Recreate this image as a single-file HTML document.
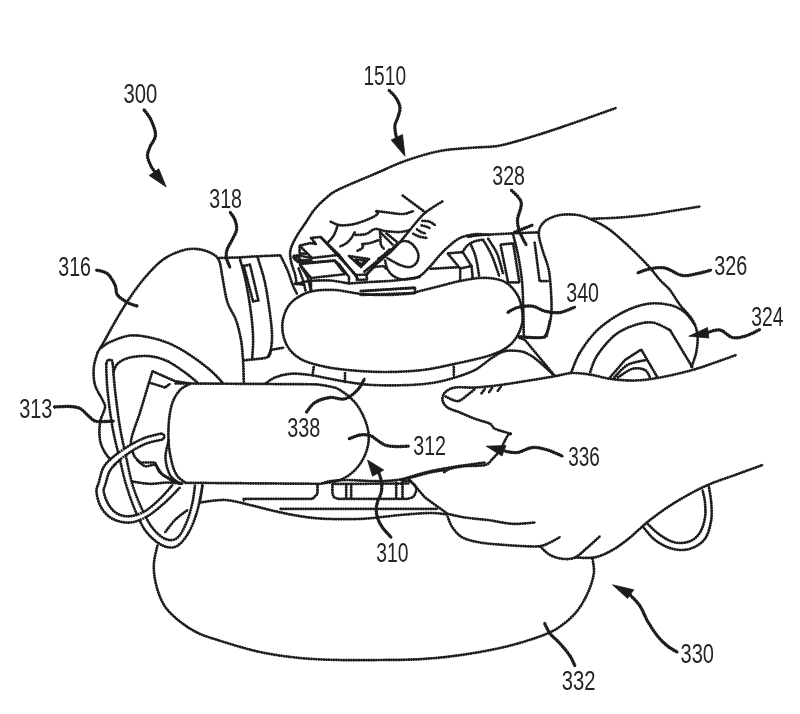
<!DOCTYPE html>
<html lang="en">
<head>
<meta charset="utf-8">
<title>Patent figure - device 300 with hands 1510 and 336</title>
<style>
html,body{margin:0;padding:0;background:#fff;}
body{width:800px;height:714px;overflow:hidden;}
svg{display:block;}
</style>
</head>
<body>
<svg width="800" height="714" viewBox="0 0 800 714">
<rect width="800" height="714" fill="#fff"/>
<defs>
<g id="mainlines">
<path d="M157.5 545.0C156.9 548.3 154.0 558.3 153.8 565.0C153.6 571.7 154.5 578.3 156.2 585.0C157.9 591.7 160.4 599.2 164.0 605.0C167.6 610.8 172.5 615.4 178.0 620.0C183.5 624.6 190.2 629.1 197.0 632.5C203.8 635.9 208.5 637.2 219.0 640.5C229.5 643.8 246.5 649.1 260.0 652.0C273.5 654.9 286.7 656.7 300.0 658.0C313.3 659.3 326.7 659.7 340.0 660.0C353.3 660.3 366.7 660.1 380.0 660.0C393.3 659.9 406.7 660.0 420.0 659.2C433.3 658.4 446.7 657.1 460.0 655.2C473.3 653.3 488.3 650.6 500.0 648.0C511.7 645.4 520.8 642.8 530.0 639.8C539.2 636.8 547.5 634.2 555.0 629.8C562.5 625.4 569.6 619.5 575.0 613.5C580.4 607.5 584.4 600.2 587.5 593.5C590.6 586.8 593.0 579.3 593.8 573.5C594.6 567.7 592.7 561.0 592.5 558.5"/>
<path d="M616.0 108.0C609.2 110.4 588.1 118.0 575.0 122.5C561.9 127.0 550.0 131.2 537.5 135.0C525.0 138.8 510.4 143.4 500.0 145.5C489.6 147.6 485.0 146.6 475.0 147.5C465.0 148.4 451.7 148.8 440.0 151.0C428.3 153.2 415.8 157.2 405.0 161.0C394.2 164.8 386.2 169.0 375.0 173.8C363.8 178.6 345.8 185.8 337.5 190.0C329.2 194.2 328.8 195.8 325.0 199.0C321.2 202.2 317.8 205.5 314.5 209.5C311.2 213.5 308.5 218.5 305.5 223.0C302.5 227.5 299.0 232.0 296.5 236.5C294.0 241.0 291.4 245.8 290.5 250.0C289.6 254.2 290.4 258.0 291.2 262.0C291.9 266.0 294.1 270.5 295.0 274.0C295.9 277.5 296.2 281.5 296.5 283.0"/>
<path d="M591.0 218.8C595.8 218.6 610.2 218.2 620.0 217.5C629.8 216.8 640.8 215.7 650.0 214.5C659.2 213.3 666.7 211.8 675.0 210.5C683.3 209.2 695.8 207.2 700.0 206.5"/>
<path d="M97.5 352.5C98.5 350.8 100.5 347.8 103.8 342.0C107.1 336.2 113.1 324.9 117.5 317.5C121.9 310.1 125.4 304.2 130.0 297.5C134.6 290.8 139.6 283.8 145.0 277.5C150.4 271.2 156.7 264.4 162.5 260.0C168.3 255.6 174.6 253.1 180.0 251.2C185.4 249.3 190.0 248.6 195.0 248.8C200.0 249.0 206.0 250.6 210.0 252.5C214.0 254.4 216.7 255.8 218.8 260.0C220.9 264.2 221.1 270.4 222.5 277.5C223.9 284.6 225.2 295.4 227.5 302.5C229.8 309.6 233.8 313.8 236.0 320.0C238.2 326.2 239.8 333.3 241.0 340.0C242.2 346.7 242.5 352.9 243.0 360.0C243.5 367.1 243.7 378.8 243.8 382.5"/>
<path d="M101.0 348.0C102.5 347.0 105.2 344.1 110.0 342.0C114.8 339.9 123.3 336.2 130.0 335.5C136.7 334.8 143.3 336.1 150.0 337.5C156.7 338.9 163.3 340.9 170.0 343.8C176.7 346.7 183.3 350.6 190.0 355.0C196.7 359.4 204.6 365.4 210.0 370.0C215.4 374.6 220.4 380.4 222.5 382.5"/>
<path d="M112.5 375.0C113.3 373.1 114.6 366.7 117.5 363.8C120.4 360.9 124.6 358.8 130.0 357.5C135.4 356.2 143.8 355.6 150.0 356.2C156.2 356.8 161.7 358.5 167.5 361.2C173.3 363.9 180.0 368.9 185.0 372.5C190.0 376.1 195.4 380.8 197.5 382.5"/>
<path d="M523.8 337.5C527.1 337.5 539.8 338.3 543.8 337.5C547.8 336.7 546.3 336.2 547.5 332.5C548.7 328.8 550.6 321.2 551.2 315.0C551.8 308.8 551.6 302.5 551.2 295.0C550.8 287.5 550.2 277.5 548.8 270.0C547.3 262.5 544.2 256.2 542.5 250.0C540.8 243.8 538.4 237.3 538.8 232.5C539.2 227.7 541.5 224.1 545.0 221.2C548.5 218.3 554.6 216.0 560.0 215.0C565.4 214.0 572.1 214.2 577.5 215.0C582.9 215.8 587.1 217.5 592.5 220.0C597.9 222.5 603.8 225.4 610.0 230.0C616.2 234.6 623.8 241.7 630.0 247.5C636.2 253.3 642.5 259.6 647.5 265.0C652.5 270.4 656.2 275.8 660.0 280.0C663.8 284.2 666.7 285.8 670.0 290.0C673.3 294.2 676.2 300.0 680.0 305.0C683.8 310.0 689.6 315.0 692.5 320.0C695.4 325.0 696.9 329.6 697.5 335.0C698.1 340.4 697.2 347.1 696.2 352.5C695.2 357.9 692.0 365.0 691.2 367.5"/>
<path d="M571.2 372.5C572.7 369.2 575.6 359.6 580.0 352.5C584.4 345.4 590.4 336.7 597.5 330.0C604.6 323.3 614.2 316.9 622.5 312.5C630.8 308.1 639.6 305.1 647.5 303.8C655.4 302.6 663.8 303.6 670.0 305.0C676.2 306.4 680.8 309.2 685.0 312.5C689.2 315.8 693.3 322.9 695.0 325.0"/>
<path d="M590.0 372.5C591.2 369.6 593.3 361.2 597.5 355.0C601.7 348.8 608.8 340.0 615.0 335.0C621.2 330.0 628.8 327.1 635.0 325.0C641.2 322.9 646.7 321.7 652.5 322.5C658.3 323.3 667.1 328.8 670.0 330.0"/>
<path d="M670.0 330.0L692.5 367.5"/>
<path d="M511.2 433.8C508.5 433.0 498.5 430.5 495.0 428.8C491.5 427.1 493.3 425.5 490.0 423.8C486.7 422.1 480.0 420.7 475.0 418.8C470.0 416.9 464.6 414.4 460.0 412.5C455.4 410.6 450.4 409.6 447.5 407.5C444.6 405.4 442.9 402.5 442.5 400.0C442.1 397.5 442.9 394.6 445.0 392.5C447.1 390.4 450.0 388.3 455.0 387.5C460.0 386.7 467.5 387.9 475.0 387.5C482.5 387.1 491.7 386.1 500.0 385.0C508.3 383.9 515.8 382.7 525.0 381.2C534.2 379.7 547.1 377.6 555.0 376.2C562.9 374.8 566.2 373.2 572.5 373.0C578.8 372.8 586.2 374.0 592.5 375.0C598.8 376.0 602.9 377.9 610.0 378.8C617.1 379.7 626.7 380.7 635.0 380.5C643.3 380.3 650.4 379.2 660.0 377.5C669.6 375.8 683.3 372.5 692.5 370.0C701.7 367.5 707.7 365.0 715.0 362.5C722.3 360.0 732.7 356.2 736.2 355.0"/>
<path d="M575.0 557.5C578.3 557.5 588.8 558.5 595.0 557.3C601.2 556.0 606.7 553.3 612.5 550.0C618.3 546.7 623.8 542.5 630.0 537.5C636.2 532.5 642.5 525.8 650.0 520.0C657.5 514.2 665.8 508.1 675.0 502.5C684.2 496.9 695.0 490.8 705.0 486.2C715.0 481.6 725.4 478.5 735.0 475.0C744.6 471.5 757.9 466.7 762.5 465.0"/>
<path d="M190.0 383.8C188.3 384.8 182.9 386.9 180.0 390.0C177.1 393.1 174.4 397.1 172.5 402.5C170.6 407.9 169.4 415.4 168.8 422.5C168.2 429.6 168.2 437.9 168.8 445.0C169.4 452.1 171.1 459.8 172.5 465.0C173.9 470.2 175.4 473.3 177.5 476.2C179.6 479.1 183.8 481.4 185.0 482.5"/>
<path d="M317.5 384.5C319.6 384.8 326.2 385.6 330.0 386.5C333.8 387.4 335.8 387.3 340.0 390.0C344.2 392.7 350.8 397.5 355.0 402.5C359.2 407.5 362.7 414.2 365.0 420.0C367.3 425.8 368.8 431.7 368.8 437.5C368.8 443.3 367.3 449.6 365.0 455.0C362.7 460.4 359.2 465.8 355.0 470.0C350.8 474.2 345.8 477.7 340.0 480.0C334.2 482.3 323.3 483.2 320.0 483.8"/>
<path d="M185.0 482.8L320.0 483.8"/>
<path d="M168.8 440.0C168.2 442.9 165.3 451.7 165.5 457.5C165.7 463.3 167.6 470.6 170.0 475.0C172.4 479.4 178.3 482.5 180.0 484.0"/>
<path d="M312.5 291.2C318.8 289.9 327.1 289.6 335.0 290.0C342.9 290.4 351.7 293.0 360.0 293.8C368.3 294.6 376.7 295.1 385.0 295.0C393.3 294.9 404.2 294.2 410.0 293.5C415.8 292.8 415.0 292.2 420.0 291.0C425.0 289.8 433.3 287.7 440.0 286.0C446.7 284.3 453.3 282.3 460.0 281.0C466.7 279.7 474.0 278.3 480.0 278.0C486.0 277.7 491.3 278.0 496.0 279.0C500.7 280.0 504.3 281.2 508.0 284.0C511.7 286.8 515.7 291.7 518.0 296.0C520.3 300.3 521.3 305.3 522.0 310.0C522.7 314.7 523.0 319.3 522.0 324.0C521.0 328.7 518.7 334.0 516.0 338.0C513.3 342.0 510.7 345.0 506.0 348.0C501.3 351.0 496.5 353.4 488.0 356.0C479.5 358.6 465.9 361.5 455.0 363.8C444.1 366.1 434.2 368.6 422.5 370.0C410.8 371.4 397.5 372.0 385.0 372.0C372.5 372.0 357.9 371.0 347.5 370.0C337.1 369.0 330.0 367.9 322.5 366.2C315.0 364.5 307.9 362.7 302.5 360.0C297.1 357.3 293.1 353.8 290.0 350.0C286.9 346.2 285.1 342.1 283.8 337.5C282.6 332.9 281.9 327.5 282.5 322.5C283.1 317.5 285.0 311.7 287.5 307.5C290.0 303.3 293.3 300.2 297.5 297.5C301.7 294.8 306.2 292.4 312.5 291.2Z"/>
<path d="M265.0 383.8C266.7 382.8 270.8 379.2 275.0 377.5C279.2 375.8 284.2 374.2 290.0 373.8C295.8 373.4 301.2 373.8 310.0 375.0C318.8 376.2 332.1 379.5 342.5 381.2C352.9 382.9 361.2 384.4 372.5 385.0C383.8 385.6 399.6 385.4 410.0 385.0C420.4 384.6 427.5 383.8 435.0 382.5C442.5 381.2 448.3 379.6 455.0 377.5C461.7 375.4 468.8 373.3 475.0 370.0C481.2 366.7 487.5 360.6 492.5 357.5C497.5 354.4 500.4 352.2 505.0 351.2C509.6 350.1 515.8 350.6 520.0 351.2C524.2 351.8 526.7 353.1 530.0 355.0C533.3 356.9 535.8 359.0 540.0 362.5C544.2 366.0 552.5 373.9 555.0 376.2"/>
<path d="M313.8 366.5L312.5 375.5"/>
<path d="M345.0 372.5L345.0 382.5"/>
<path d="M453.8 366.2L453.8 376.2"/>
<path d="M518.8 337.5L525.0 340.0L555.0 376.2"/>
<path d="M97.5 352.5C96.9 355.0 94.2 362.1 93.8 367.5C93.4 372.9 93.5 379.6 95.0 385.0C96.5 390.4 100.8 396.2 102.5 400.0C104.2 403.8 105.4 403.8 105.0 407.5C104.6 411.2 100.8 417.1 100.0 422.5C99.2 427.9 99.2 435.0 100.0 440.0C100.8 445.0 102.5 448.3 105.0 452.5C107.5 456.7 113.3 462.9 115.0 465.0"/>
<path d="M152.5 371.2C151.7 373.9 149.6 380.6 147.5 387.5C145.4 394.4 142.7 403.8 140.0 412.5C137.3 421.2 132.2 432.9 131.2 440.0C130.2 447.1 132.3 451.2 133.8 455.0C135.3 458.8 139.0 461.2 140.0 462.5"/>
<path d="M140.0 462.5L155.0 462.5L157.5 467.5L162.5 475.0L175.0 482.5"/>
<path d="M152.5 371.2L175.0 381.2L190.0 383.5"/>
<path d="M149.0 382.5L165.0 387.5L170.0 383.8"/>
<path d="M130.0 481.2C133.3 481.6 143.8 483.6 150.0 483.8C156.2 484.0 162.1 482.5 167.5 482.5C172.9 482.5 180.0 483.6 182.5 483.8"/>
<path d="M137.5 460.0C138.8 461.0 142.1 465.4 145.0 466.2C147.9 467.0 152.5 463.9 155.0 465.0C157.5 466.1 157.1 470.0 160.0 472.5C162.9 475.0 168.8 478.1 172.5 480.0C176.2 481.9 180.8 483.2 182.5 483.8"/>
<path d="M218.8 258.0L239.5 257.4L257.3 256.3L280.4 255.3"/>
<path d="M239.5 257.4C240.6 261.4 243.9 272.2 245.8 281.5C247.7 290.8 249.8 303.6 251.0 313.0C252.2 322.4 252.9 330.5 253.1 338.2C253.3 345.9 252.3 355.7 252.1 359.2"/>
<path d="M257.3 256.3C258.5 260.5 262.6 272.1 264.7 281.5C266.8 290.9 268.7 304.2 269.9 313.0C271.1 321.8 271.8 328.1 272.0 334.0C272.2 339.9 271.7 344.8 271.0 348.7C270.3 352.6 268.3 355.7 267.8 357.1"/>
<path d="M280.4 255.3C281.6 257.9 285.7 265.9 287.8 271.0C289.9 276.1 291.4 281.8 293.0 285.7C294.6 289.6 296.5 292.7 297.2 294.1"/>
<path d="M243.7 360.3C245.1 360.2 248.1 360.0 252.1 359.5C256.1 359.0 264.7 358.7 267.8 357.1C270.9 355.5 270.5 351.0 271.0 349.8"/>
<path d="M271.0 349.8L283.6 347.7"/>
<path d="M243.7 265.8L250.0 264.7L258.4 300.4L253.1 301.5Z"/>
<path d="M175.0 383.4L317.5 384.3"/>
<path d="M467.7 237.0C469.4 236.7 474.2 235.7 478.0 235.3C481.8 234.9 484.1 234.8 490.4 234.5C496.7 234.2 507.7 233.6 515.7 233.2C523.7 232.8 534.6 232.5 538.4 232.3"/>
<path d="M462.7 252.1C463.2 251.2 464.7 248.5 466.0 247.0C467.3 245.5 468.6 244.3 470.3 243.3C472.0 242.3 473.9 241.6 476.0 241.0C478.1 240.4 481.8 239.8 482.9 239.5"/>
<path d="M470.3 243.3C470.9 244.8 472.9 249.1 474.0 252.0C475.1 254.9 475.8 257.0 476.6 261.0C477.5 265.0 478.7 273.6 479.1 276.1"/>
<path d="M482.9 239.5C483.8 241.1 486.8 245.8 488.5 249.0C490.2 252.2 491.2 253.9 493.0 258.4C494.8 262.9 498.2 273.2 499.3 276.1"/>
<path d="M487.9 238.3C488.8 239.8 491.8 244.1 493.5 247.0C495.2 249.9 496.4 251.5 498.0 255.9C499.6 260.3 502.2 270.7 503.0 273.6"/>
<path d="M500.5 244.6L513.1 243.3L519.4 282.4L508.1 282.4Z"/>
<path d="M513.1 234.5C514.0 238.1 516.7 248.1 518.2 255.9C519.7 263.7 521.2 272.7 522.0 281.1C522.8 289.5 522.9 297.0 523.2 306.4C523.5 315.8 523.7 332.3 523.8 337.5"/>
<path d="M534.6 242.1L539.6 281.1L548.4 281.1"/>
<path d="M517.5 336.2C521.2 336.4 535.2 337.9 540.0 337.5C544.8 337.1 544.5 336.7 546.2 333.8C547.9 330.9 549.4 322.3 550.0 320.0"/>
<path d="M317.5 484.0L317.5 493.8L312.5 498.8L243.8 498.8L243.8 501.0"/>
<path d="M280.0 508.8L437.5 508.8"/>
<path d="M200.0 502.5C204.2 502.1 216.7 499.6 225.0 500.0C233.3 500.4 241.7 503.1 250.0 505.0C258.3 506.9 266.7 509.3 275.0 511.2C283.3 513.1 291.7 514.9 300.0 516.2C308.3 517.5 314.6 518.4 325.0 518.8C335.4 519.2 350.0 519.4 362.5 518.8C375.0 518.2 388.8 516.0 400.0 515.0C411.2 514.0 422.1 513.1 430.0 513.0C437.9 512.9 444.6 514.2 447.5 514.5"/>
<path d="M202.5 485.0L200.0 501.2"/>
<path d="M332.5 484.0C332.5 485.5 332.2 490.8 332.5 493.0C332.8 495.2 333.1 496.0 334.0 497.0C334.9 498.0 337.3 498.5 338.0 498.8"/>
<path d="M338.0 498.8L407.5 498.8"/>
<path d="M332.5 484.0L408.8 483.5"/>
<path d="M346.2 484.0L346.2 498.0"/>
<path d="M351.2 484.0L351.2 498.0"/>
<path d="M396.2 482.0L396.2 498.0"/>
<path d="M402.5 481.0L402.5 498.0"/>
<path d="M322.0 483.5C323.3 483.1 325.8 481.8 330.0 481.2C334.2 480.6 339.2 480.0 347.5 480.0C355.8 480.0 370.4 481.4 380.0 481.2C389.6 481.0 396.7 480.2 405.0 478.8C413.3 477.4 423.3 474.0 430.0 472.5C436.7 471.0 442.5 470.4 445.0 470.0"/>
<path d="M408.8 478.8L425.0 497.5L447.5 513.8"/>
<path d="M403.0 481.2L410.0 481.2"/>
<path d="M410.0 481.2C411.0 482.2 415.6 485.0 416.2 487.5C416.8 490.0 415.2 494.3 413.8 496.2C412.4 498.1 408.6 498.4 407.5 498.8"/>
<path d="M445.0 396.2C447.1 397.0 453.8 401.4 457.5 401.2C461.2 401.0 464.6 397.1 467.5 395.0C470.4 392.9 473.8 389.8 475.0 388.8"/>
<path d="M481.2 393.8L485.0 388.8"/>
<path d="M488.8 392.5L492.5 387.5"/>
<path d="M497.5 391.2L501.2 386.2"/>
<path d="M511.2 433.8C510.6 434.2 509.4 433.3 507.5 436.0C505.6 438.7 502.5 446.2 500.0 450.0C497.5 453.8 495.0 456.3 492.5 458.8C490.0 461.3 489.6 463.8 485.0 465.0C480.4 466.2 470.8 465.6 465.0 466.2C459.2 466.8 453.5 467.8 450.0 468.8C446.5 469.9 444.8 471.9 443.8 472.5"/>
<path d="M400.0 480.0C404.2 478.8 416.7 474.6 425.0 472.5C433.3 470.4 440.0 469.2 450.0 467.5C460.0 465.8 479.2 463.3 485.0 462.5"/>
<path d="M447.5 513.8C450.4 514.4 458.3 516.5 465.0 517.5C471.7 518.5 479.6 519.0 487.5 520.0C495.4 521.0 504.6 523.4 512.5 523.8C520.4 524.2 531.2 522.7 535.0 522.5"/>
<path d="M447.5 516.2C448.3 518.1 450.0 524.0 452.5 527.5C455.0 531.0 457.9 535.0 462.5 537.5C467.1 540.0 472.9 541.2 480.0 542.5C487.1 543.8 497.5 544.4 505.0 545.0C512.5 545.6 519.2 546.0 525.0 546.2C530.8 546.4 535.8 546.8 540.0 546.2C544.2 545.6 546.7 544.0 550.0 542.5C553.3 541.0 558.3 537.9 560.0 537.0"/>
<path d="M540.0 546.2C541.7 547.7 546.2 552.9 550.0 555.0C553.8 557.1 558.3 558.4 562.5 558.8C566.7 559.2 570.8 559.4 575.0 557.5C579.2 555.6 583.3 551.0 587.5 547.5C591.7 544.0 597.9 538.1 600.0 536.2"/>
<path d="M642.5 526.2C644.6 528.5 650.0 536.2 655.0 540.0C660.0 543.8 666.7 547.3 672.5 548.8C678.3 550.3 684.6 550.5 690.0 548.8C695.4 547.1 701.5 543.6 705.0 538.8C708.5 534.0 710.2 526.0 711.2 520.0C712.2 514.0 711.6 508.1 711.2 502.5C710.8 496.9 709.2 488.9 708.8 486.2"/>
<path d="M647.5 523.8C649.6 525.7 655.4 531.9 660.0 535.0C664.6 538.1 670.0 541.5 675.0 542.5C680.0 543.5 685.8 542.9 690.0 541.2C694.2 539.5 697.5 536.5 700.0 532.5C702.5 528.5 704.2 522.5 705.0 517.5C705.8 512.5 705.4 507.1 705.0 502.5C704.6 497.9 702.9 492.1 702.5 490.0"/>
<path d="M610.0 377.5L625.0 360.0L641.2 349.5L657.5 377.5"/>
<path d="M613.8 378.0C616.1 375.8 622.1 368.0 627.5 365.0C632.9 362.0 643.1 360.8 646.2 360.0"/>
<path d="M617.5 377.5C620.0 376.1 627.9 370.1 632.5 368.8C637.1 367.6 642.1 368.6 645.0 370.0C647.9 371.4 649.2 376.2 650.0 377.5"/>
<path d="M330.2 221.5C331.8 222.1 335.9 224.8 340.0 225.2C344.1 225.6 350.0 224.9 355.0 223.8C360.0 222.7 366.2 220.1 370.0 218.5C373.8 216.9 376.5 215.2 377.5 214.0C378.5 212.8 376.2 211.5 376.0 211.0"/>
<path d="M376.0 211.0C378.0 211.2 383.5 212.0 388.0 212.5C392.5 213.0 398.8 214.2 403.0 214.0C407.2 213.8 411.8 211.5 413.5 211.0"/>
<path d="M337.8 225.2C337.2 226.8 335.6 232.1 334.0 235.0C332.4 237.9 329.0 241.2 328.0 242.5"/>
<path d="M355.0 232.0C354.3 233.1 352.5 236.6 351.0 238.5C349.5 240.4 347.8 242.2 346.0 243.5C344.2 244.8 341.0 246.0 340.0 246.5"/>
<path d="M355.0 235.0C356.8 234.8 362.7 235.0 366.0 234.0C369.3 233.0 371.8 229.5 375.0 229.0C378.2 228.5 380.8 230.5 385.0 231.0C389.2 231.5 395.8 232.2 400.0 232.0C404.2 231.8 408.3 230.3 410.0 230.0"/>
<path d="M357.0 251.0C357.7 250.7 360.0 249.7 361.0 249.0C362.0 248.3 362.8 247.8 363.0 247.0C363.2 246.2 362.2 244.5 362.0 244.0"/>
<path d="M362.0 244.0C363.3 243.8 367.2 243.7 370.0 243.0C372.8 242.3 377.5 240.5 379.0 240.0"/>
<path d="M402.2 195.2L425.5 212.5"/>
<path d="M442.8 201.2C439.9 203.1 430.3 208.5 425.5 212.5C420.7 216.5 418.2 220.1 414.0 225.0C409.8 229.9 404.3 237.2 400.0 242.0C395.7 246.8 391.7 251.2 388.0 254.0C384.3 256.8 379.7 257.8 378.0 258.5"/>
<path d="M388.0 254.0C389.3 252.5 393.3 247.2 396.0 245.0C398.7 242.8 401.3 241.2 404.0 241.0C406.7 240.8 409.7 242.0 412.0 244.0C414.3 246.0 417.2 250.0 418.0 253.0C418.8 256.0 418.3 259.7 417.0 262.0C415.7 264.3 412.8 266.5 410.0 267.0C407.2 267.5 403.8 266.5 400.0 265.0C396.2 263.5 389.2 259.2 387.0 258.0"/>
<path d="M385.0 260.0C385.3 261.3 385.8 265.5 387.0 268.0C388.2 270.5 389.8 273.2 392.0 275.0C394.2 276.8 397.0 278.3 400.0 279.0C403.0 279.7 406.7 279.5 410.0 279.0C413.3 278.5 416.7 278.1 420.0 276.0C423.3 273.9 426.8 269.8 430.0 266.5C433.2 263.2 436.0 259.2 439.0 256.0C442.0 252.8 444.5 250.0 448.0 247.0C451.5 244.0 455.5 240.1 460.0 238.0C464.5 235.9 470.0 234.7 475.0 234.2C480.0 233.7 487.5 234.9 490.0 235.0"/>
<path d="M421.8 220.8C423.0 220.9 426.8 220.8 429.0 221.5C431.2 222.2 434.2 224.6 435.2 225.2"/>
<path d="M421.0 225.2C421.8 225.4 424.5 226.0 426.0 226.5C427.5 227.0 429.3 227.9 430.0 228.2"/>
<path d="M416.5 229.0C417.2 229.5 419.5 231.2 421.0 232.0C422.5 232.8 424.8 233.2 425.5 233.5"/>
<path d="M412.8 233.5C413.8 234.0 416.6 235.8 419.0 236.5C421.4 237.2 425.7 237.8 427.0 238.0"/>
<path d="M299.6 245.7L310.1 243.1L315.8 243.8L311.0 237.9L320.6 237.0L339.0 254.9"/>
<path d="M299.6 245.7L311.9 258.0L339.0 254.9"/>
<path d="M299.6 246.5L299.6 253.6L306.6 253.6"/>
<path d="M293.5 255.8L298.7 255.4L311.0 258.0"/>
<path d="M295.2 260.2L311.9 260.2"/>
<path d="M297.0 261.9L311.9 262.4L334.6 260.6L339.0 264.1"/>
<path d="M293.5 255.8L295.2 260.2"/>
<path d="M299.6 264.1L334.6 260.6L345.1 274.2L311.0 278.0L299.6 264.1"/>
<path d="M320.6 237.0L340.0 258.0L356.5 275.5"/>
<path d="M339.0 254.9L358.2 279.0"/>
<path d="M339.0 264.1L349.0 277.0L349.0 283.5"/>
<path d="M356.5 275.0L366.5 274.5L367.0 279.5L357.0 280.0Z"/>
<path d="M366.5 274.5L373.0 267.0L388.0 254.0"/>
<path d="M364.0 272.0L376.0 262.0L390.0 249.0"/>
<path d="M367.0 274.0L374.0 267.0L384.0 266.0L386.0 269.0"/>
<path d="M349.0 256.0L369.0 259.0L361.0 267.0Z"/>
<path d="M355.0 259.5L365.5 260.5L361.0 264.5Z"/>
<path d="M381.0 233.0L393.0 245.0"/>
<path d="M386.0 233.0L397.0 242.0"/>
<path d="M380.0 231.0C380.1 232.5 380.3 237.7 380.5 240.0C380.7 242.3 380.4 243.5 381.0 245.0C381.6 246.5 383.5 248.3 384.0 249.0"/>
<path d="M349.0 283.5C352.5 283.2 362.3 282.5 370.0 282.0C377.7 281.5 386.7 281.3 395.0 280.5C403.3 279.7 415.8 277.6 420.0 277.0"/>
<path d="M360.0 291.0L415.0 288.0L415.0 293.0L360.0 295.0"/>
<path d="M296.0 284.0C298.3 283.5 304.3 281.6 310.0 281.0C315.7 280.4 323.5 280.1 330.0 280.5C336.5 280.9 345.8 283.0 349.0 283.5"/>
<path d="M447.6 253.4L462.7 252.1"/>
<path d="M447.6 253.4L460.2 268.5L471.5 266.0L462.7 252.1"/>
<path d="M460.2 268.5L460.2 281.0"/>
<path d="M471.5 266.0L472.8 278.6"/>
<path d="M430.0 268.8L458.5 267.2"/>
<path d="M293.0 257.8L299.3 257.4L300.4 265.8L307.7 277.3L310.9 291.0"/>
<path d="M298.5 268.0L303.5 281.5L305.6 291.0"/>
<path d="M294.1 283.6L303.5 284.7"/>
<path d="M311.0 278.0L311.0 291.0"/>
<path d="M362.5 291.2L415.0 287.5"/>
<path d="M109.5 366.0C109.8 370.0 110.1 379.8 111.2 390.0C112.3 400.2 114.2 416.0 116.2 427.5C118.2 439.0 120.9 449.2 123.1 458.8C125.3 468.4 126.9 476.7 129.4 485.0C131.9 493.3 135.0 501.6 138.1 508.8C141.2 516.0 144.4 522.9 148.1 528.1C151.8 533.3 156.2 537.4 160.0 540.0C163.8 542.6 167.9 543.9 171.2 543.8C174.5 543.7 177.1 542.5 180.0 539.4C182.9 536.3 186.3 530.5 188.8 525.0C191.3 519.5 193.3 512.5 195.0 506.2C196.7 499.9 198.2 490.2 198.8 487.0" stroke="#fff" stroke-width="5" stroke-dasharray="none" stroke-linecap="butt"/>
<path d="M106.2 364.0C106.4 368.3 106.5 379.4 107.5 390.0C108.5 400.6 110.4 415.8 112.5 427.5C114.6 439.2 117.7 450.4 120.0 460.0C122.3 469.6 123.7 476.7 126.2 485.0C128.7 493.3 131.9 502.5 135.0 510.0C138.1 517.5 141.2 524.6 145.0 530.0C148.8 535.4 153.3 539.6 157.5 542.5C161.7 545.4 166.2 547.3 170.0 547.5C173.8 547.7 176.7 546.7 180.0 543.8C183.3 540.9 187.1 535.6 190.0 530.0C192.9 524.4 195.4 517.5 197.5 510.0C199.6 502.5 201.7 489.2 202.5 485.0"/>
<path d="M112.8 364.0C113.2 368.3 113.8 379.4 115.0 390.0C116.2 400.6 118.1 416.2 120.0 427.5C121.9 438.8 124.1 447.9 126.2 457.5C128.3 467.1 130.0 476.7 132.5 485.0C135.0 493.3 138.1 500.6 141.2 507.5C144.3 514.4 147.6 521.2 151.2 526.2C154.8 531.2 158.9 535.2 162.5 537.5C166.1 539.8 169.6 540.4 172.5 540.0C175.4 539.6 177.5 538.3 180.0 535.0C182.5 531.7 185.4 525.4 187.5 520.0C189.6 514.6 191.2 508.3 192.5 502.5C193.8 496.7 194.6 487.9 195.0 485.0"/>
<path d="M106.2 364.0C106.4 363.4 107.0 361.2 107.5 360.5C108.0 359.8 108.8 359.8 109.5 359.8C110.2 359.8 111.2 359.8 111.8 360.5C112.3 361.2 112.6 363.4 112.8 364.0"/>
<path d="M165.0 532.5C166.7 530.4 171.2 523.8 175.0 520.0C178.8 516.2 185.4 511.7 187.5 510.0"/>
<path d="M161.9 436.5C158.9 437.3 150.1 438.7 143.8 441.4C137.5 444.1 130.2 448.2 124.2 452.5C118.2 456.8 111.7 461.9 108.0 467.0C104.3 472.1 103.5 479.0 102.2 483.2C100.9 487.4 99.7 488.2 100.2 492.0C100.7 495.8 102.5 502.1 105.0 506.2C107.5 510.2 110.8 514.1 115.0 516.3C119.2 518.5 124.8 519.8 130.0 519.4C135.2 519.0 140.8 516.8 146.2 513.7C151.6 510.6 157.9 504.8 162.5 500.6C167.1 496.4 172.1 490.5 174.0 488.5" stroke="#fff" stroke-width="4.2" stroke-dasharray="none" stroke-linecap="butt"/>
<path d="M161.2 433.5C158.1 434.4 148.9 436.1 142.5 438.8C136.1 441.6 128.8 445.6 122.5 450.0C116.2 454.4 109.0 459.6 105.0 465.0C101.0 470.4 100.2 478.0 98.8 482.5C97.4 487.0 96.1 487.8 96.5 492.0C96.9 496.2 98.5 503.0 101.2 507.5C103.9 512.0 107.7 516.3 112.5 518.8C117.3 521.3 124.2 522.9 130.0 522.5C135.8 522.1 141.7 519.5 147.5 516.2C153.3 512.9 159.6 507.3 165.0 502.5C170.4 497.7 177.5 490.0 180.0 487.5"/>
<path d="M162.5 439.5C159.6 440.2 151.1 441.4 145.0 444.0C138.9 446.6 131.7 450.8 126.0 455.0C120.3 459.2 114.4 464.2 111.0 469.0C107.6 473.8 106.7 480.2 105.5 484.0C104.3 487.8 103.2 488.5 103.8 492.0C104.3 495.5 106.5 501.4 108.8 505.0C111.1 508.6 114.0 511.9 117.5 513.8C121.0 515.7 125.4 516.6 130.0 516.2C134.6 515.8 140.0 514.1 145.0 511.2C150.0 508.3 155.4 503.2 160.0 498.8C164.6 494.4 170.4 487.3 172.5 485.0"/>
<path d="M161.2 433.5C161.6 433.7 163.0 433.9 163.5 434.5C164.0 435.1 164.5 436.2 164.3 437.0C164.1 437.8 162.8 439.1 162.5 439.5"/>
</g>
<g id="leadlines">
<path d="M143.8 109.5C145.0 111.2 149.1 115.8 151.0 120.0C152.9 124.2 155.7 130.5 155.5 135.0C155.3 139.5 151.3 143.5 150.0 147.0C148.7 150.5 147.3 152.8 147.5 156.0C147.7 159.2 149.4 162.8 151.0 166.0C152.6 169.2 156.0 173.5 157.0 175.0"/>
<path d="M388.8 90.0C390.0 91.3 394.1 95.1 396.0 98.0C397.9 100.9 399.7 104.3 400.0 107.5C400.3 110.7 398.8 114.1 398.0 117.0C397.2 119.9 395.4 122.3 395.0 125.0C394.6 127.7 395.2 130.7 395.5 133.0C395.8 135.3 396.8 138.0 397.0 139.0"/>
<path d="M230.0 212.0C230.8 213.3 233.9 217.0 235.0 220.0C236.1 223.0 237.0 226.7 236.5 230.0C236.0 233.3 233.6 236.7 232.0 240.0C230.4 243.3 227.9 247.0 227.0 250.0C226.1 253.0 226.0 255.1 226.5 258.0C227.0 260.9 229.4 265.9 230.0 267.5"/>
<path d="M96.2 270.0C98.1 270.6 104.4 271.3 107.5 273.8C110.6 276.3 113.3 281.5 115.0 285.0C116.7 288.5 115.4 292.1 117.5 295.0C119.6 297.9 124.2 300.6 127.5 302.5C130.8 304.4 135.8 305.6 137.5 306.2"/>
<path d="M511.2 190.0C512.9 192.1 520.2 197.5 521.2 202.5C522.2 207.5 517.7 215.0 517.5 220.0C517.3 225.0 518.5 228.3 520.0 232.5C521.5 236.7 525.2 242.9 526.2 245.0"/>
<path d="M513.8 232.5L532.5 225.0"/>
<path d="M637.5 273.0C639.6 272.3 645.4 269.6 650.0 268.8C654.6 268.0 659.6 266.9 665.0 268.0C670.4 269.1 676.7 274.7 682.5 275.5C688.3 276.3 695.2 273.9 700.0 273.0C704.8 272.1 709.2 270.5 711.0 270.0"/>
<path d="M707.5 332.5C709.6 332.1 715.8 329.2 720.0 330.0C724.2 330.8 728.3 336.5 732.5 337.5C736.7 338.5 740.4 337.5 745.0 336.2C749.6 334.9 757.5 330.6 760.0 329.5"/>
<path d="M507.5 312.5C509.2 311.7 513.3 308.6 517.5 307.5C521.7 306.4 527.9 305.6 532.5 306.2C537.1 306.8 540.4 310.1 545.0 311.2C549.6 312.2 555.0 313.2 560.0 312.5C565.0 311.8 572.5 307.9 575.0 307.0"/>
<path d="M54.0 407.0C56.7 406.9 65.7 406.2 70.0 406.5C74.3 406.8 77.1 407.1 80.0 408.5C82.9 409.9 85.0 412.9 87.5 415.0C90.0 417.1 92.1 419.9 95.0 421.0C97.9 422.1 101.9 421.5 105.0 421.5C108.1 421.5 112.3 421.2 113.8 421.2"/>
<path d="M306.2 412.5C307.7 410.8 311.0 405.0 315.0 402.5C319.0 400.0 325.0 398.1 330.0 397.5C335.0 396.9 340.4 400.1 345.0 398.8C349.6 397.6 354.2 393.3 357.5 390.0C360.8 386.7 363.3 380.7 364.5 378.8"/>
<path d="M348.8 438.8C350.7 438.2 356.5 435.6 360.0 435.0C363.5 434.4 367.2 434.7 370.0 435.5C372.8 436.3 374.5 438.4 377.0 440.0C379.5 441.6 382.0 443.9 385.0 445.0C388.0 446.1 391.0 446.3 395.0 446.5C399.0 446.7 406.5 446.2 408.8 446.2"/>
<path d="M378.8 472.5C379.2 474.1 381.1 478.7 381.5 482.0C381.9 485.3 381.9 489.2 381.2 492.5C380.5 495.8 378.3 499.1 377.5 502.0C376.7 504.9 376.1 507.2 376.2 510.0C376.3 512.8 376.9 516.1 378.0 519.0C379.1 521.9 380.3 524.4 382.5 527.5C384.7 530.6 389.8 535.8 391.2 537.5"/>
<path d="M505.0 451.2C507.1 451.4 512.9 453.1 517.5 452.5C522.1 451.9 527.5 447.9 532.5 447.5C537.5 447.1 542.5 448.6 547.5 450.0C552.5 451.4 560.0 455.2 562.5 456.2"/>
<path d="M544.5 623.0C545.4 624.8 547.4 630.1 550.0 633.5C552.6 636.9 556.7 639.8 560.0 643.5C563.3 647.2 567.5 652.2 570.0 656.0C572.5 659.8 574.2 664.3 575.0 666.0"/>
<path d="M630.0 594.8C631.7 596.7 637.1 601.6 640.0 606.0C642.9 610.4 644.6 616.0 647.5 621.0C650.4 626.0 654.2 631.8 657.5 636.0C660.8 640.2 664.2 643.3 667.5 646.0C670.8 648.7 675.8 651.2 677.5 652.2"/>
</g>
</defs>
<g fill="none" stroke="#1c1c1c" stroke-linejoin="round">
<use href="#mainlines" stroke-width="1.7" stroke-linecap="round"/>
<use href="#mainlines" stroke-width="2.7" stroke-linecap="butt" stroke-dasharray="1.8 0.7"/>
<use href="#leadlines" stroke-width="2.3" stroke-linecap="round"/>
<use href="#leadlines" stroke-width="3.3" stroke-linecap="butt" stroke-dasharray="2 0.6"/>
</g>
<g fill="#1c1c1c" stroke="#1c1c1c" stroke-width="0.8" stroke-linejoin="round">
<path d="M166.2 187.0L149.2 175.5L158.8 168.8Z"/>
<path d="M405.0 156.2L391.2 140.0L402.5 134.5Z"/>
<path d="M688.8 336.2L707.5 327.5L708.8 338.0Z"/>
<path d="M367.5 460.0L372.5 476.2L383.8 470.0Z"/>
<path d="M486.2 446.2L506.0 445.5L502.0 456.0Z"/>
<path d="M612.5 584.8L633.8 589.8L627.5 598.5Z"/>
</g>
<g font-family="'Liberation Sans', Arial, Helvetica, sans-serif" fill="#222" opacity="0.99">
<text transform="translate(123.59 103.40) scale(0.7365 1)" font-size="27.5">300</text>
<text transform="translate(363.47 85.00) scale(0.6960 1)" font-size="27.5">1510</text>
<text transform="translate(209.22 207.70) scale(0.7135 1)" font-size="27.5">318</text>
<text transform="translate(58.22 275.70) scale(0.7135 1)" font-size="27.5">316</text>
<text transform="translate(492.22 185.00) scale(0.7135 1)" font-size="27.5">328</text>
<text transform="translate(714.21 274.70) scale(0.7204 1)" font-size="27.5">326</text>
<text transform="translate(751.23 326.00) scale(0.7020 1)" font-size="27.5">324</text>
<text transform="translate(566.22 302.00) scale(0.7135 1)" font-size="27.5">340</text>
<text transform="translate(19.20 417.70) scale(0.7250 1)" font-size="27.5">313</text>
<text transform="translate(287.21 437.00) scale(0.7204 1)" font-size="27.5">338</text>
<text transform="translate(413.22 454.70) scale(0.7135 1)" font-size="27.5">312</text>
<text transform="translate(568.24 466.00) scale(0.6904 1)" font-size="27.5">336</text>
<text transform="translate(376.23 562.00) scale(0.7020 1)" font-size="27.5">310</text>
<text transform="translate(561.69 689.70) scale(0.7365 1)" font-size="27.5">332</text>
<text transform="translate(680.50 663.00) scale(0.7296 1)" font-size="27.5">330</text>
</g>
</svg>
</body>
</html>
